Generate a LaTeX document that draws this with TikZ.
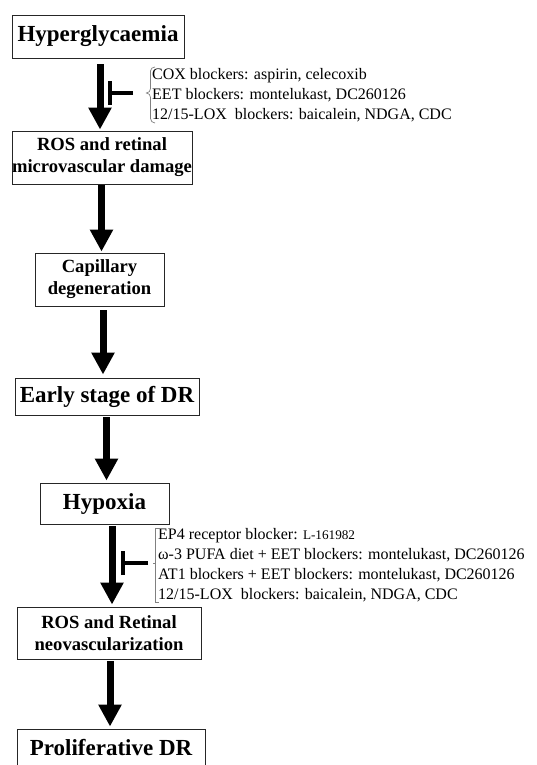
\documentclass[tikz,border=0pt]{standalone}
\usepackage{fontspec}
\setmainfont{Liberation Serif}
\usetikzlibrary{arrows.meta}
\tikzset{
  box/.style={draw=black!85, line width=0.9pt, inner sep=0pt, align=center, fill=white},
  bigtxt/.style={font=\fontsize{23}{26}\selectfont\bfseries},
  midtxt/.style={font=\fontsize{18.6}{22}\selectfont\bfseries},
  arr/.style={line width=7pt, -{Triangle[width=22pt,length=22pt]}},
  inh/.style={line width=3.5pt, -{Bar[width=24pt]}},
  lbl/.style={anchor=base west, inner sep=0pt, font=\fontsize{16}{19}\selectfont},
  brace/.style={draw=black!50, line width=0.7pt}
}
\begin{document}
\begin{tikzpicture}[x=1pt,y=-1pt]
\useasboundingbox (0,0) rectangle (536,765);
\clip (0,0) rectangle (536,765);
\fill[white] (0,0) rectangle (536,765);
% boxes
\node[box, bigtxt, minimum width=172pt, minimum height=43pt] (b1) at (98,36.5) {Hyperglycaemia};
\node[box, midtxt, minimum width=180pt, minimum height=53pt] (b2) at (102,157.5) {ROS and retinal\\microvascular damage};
\node[box, midtxt, minimum width=129pt, minimum height=53pt] (b3) at (99.5,279.5) {Capillary\\degeneration};
\node[box, bigtxt, minimum width=184pt, minimum height=37pt] (b4) at (107,396.5) {Early stage of DR};
\node[box, bigtxt, minimum width=129pt, minimum height=41pt] (b5) at (104.5,503.5) {Hypoxia};
\node[box, midtxt, minimum width=184pt, minimum height=52pt] (b6) at (109,633) {ROS and Retinal\\neovascularization};
\node[box, bigtxt, minimum width=188pt, minimum height=38pt] (b7) at (111,748) {Proliferative DR};
% arrows
\draw[arr] ([xshift=2pt,yshift=-6pt]b1.south) -- ([xshift=-2pt,yshift=1pt]b2.north);
\draw[arr] ([xshift=-0.5pt,yshift=-1pt]b2.south) -- ([xshift=2pt,yshift=1pt]b3.north);
\draw[arr] ([xshift=3.5pt,yshift=-4pt]b3.south) -- ([xshift=-4pt,yshift=3pt]b4.north);
\draw[arr] ([xshift=-0.5pt,yshift=-2pt]b4.south) -- ([xshift=2pt,yshift=2pt]b5.north);
\draw[arr] ([xshift=7.5pt,yshift=-2pt]b5.south) -- ([xshift=3pt,yshift=2pt]b6.north);
\draw[arr] ([xshift=1pt,yshift=-2pt]b6.south) -- ([xshift=-1pt,yshift=2pt]b7.north);
% first group of blockers
\node[lbl] (t1a) at (152,80) {COX blockers: aspirin, celecoxib};
\node[lbl] (t1b) at (152,100) {EET blockers: montelukast, DC260126};
\node[lbl] (t1c) at (152,120) {12/15-LOX\ \ blockers: baicalein, NDGA, CDC};
\draw[brace] (155,67) to[out=180,in=90] (150.5,71) -- (150.5,88.5) to[out=-90,in=0] (146.5,93) to[out=0,in=90] (150.5,97.5) -- (150.5,118.5) to[out=-90,in=180] (155,123);
\coordinate (i1s) at (133,93);
\coordinate (i1e) at (108,93);
\draw[inh] (i1s) -- (i1e);
% second group of blockers
\node[lbl] (t2a) at (158,539) {EP4 receptor blocker: {\fontsize{13.2}{15}\selectfont L-161982}};
\node[lbl] (t2b) at (158,559) {ω-3 PUFA diet + EET blockers: montelukast, DC260126};
\node[lbl] (t2c) at (158,579) {AT1 blockers\ + EET blockers: montelukast, DC260126};
\node[lbl] (t2d) at (158,599) {12/15-LOX\ \ blockers: baicalein, NDGA, CDC};
\draw[brace] (159,528) -- (155.5,528) -- (155.5,602) -- (159,602);
\draw[brace] (155.5,563) -- (152.5,563);
\coordinate (i2s) at (148,563);
\coordinate (i2e) at (121,563);
\draw[inh] (i2s) -- (i2e);
\end{tikzpicture}
\end{document}
